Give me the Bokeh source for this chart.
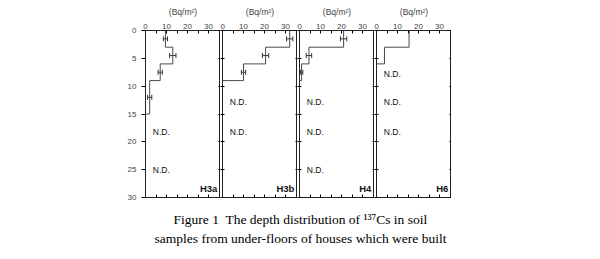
from bokeh.plotting import figure
from bokeh.layouts import row, column
from bokeh.models import (Range1d, LinearAxis, FixedTicker, ColumnDataSource,
                          Whisker, TeeHead, CustomJSTickFormatter)
from bokeh.core.properties import value
from bokeh.embed import file_html
from bokeh.resources import INLINE

# ---------------- data ----------------
panel_names = ["H3a", "H3b", "H4", "H6"]
layer_bounds = [
    [0, 3, 6, 9, 15],
    [0, 3, 6, 9],
    [0, 3, 6, 9],
    [0, 3, 6],
]
cs_values = [
    [9.5, 13.0, 7.0, 2.0],
    [32.0, 20.5, 10.0],
    [21.0, 4.5, 1.0],
    [15.5, 3.8],
]
cs_errors = [
    [1.0, 1.5, 1.0, 1.0],
    [1.5, 1.5, 1.0],
    [1.5, 1.3, 0.6],
    [],
]
nd_depths = [
    [18.3, 25.1],
    [12.9, 18.3],
    [12.9, 18.3, 25.1],
    [7.9, 12.9, 18.3],
]
x_ticks = [0, 10, 20, 30]
x_minor = [5, 15, 25]
y_ticks = [0, 5, 10, 15, 20, 25, 30]
x_label = "(Bq/m\u00b2)"
caption_1 = "Figure 1\u00a0 The depth distribution of \u00b9\u00b3\u2077Cs in soil"
caption_2 = "samples from under-floors of houses which were built"

SANS = "Liberation Sans"
SERIF = "Liberation Serif"
X_MAX = 35.7
LINE = "#4a4a4a"


def blank_formatter():
    return CustomJSTickFormatter(code="return ''")


panels = []
for i, name in enumerate(panel_names):
    first = i == 0
    p = figure(frame_width=75, frame_height=167,
               x_range=Range1d(0, X_MAX), y_range=Range1d(30, 0),
               x_axis_location="above", y_axis_location="left",
               toolbar_location=None, output_backend="svg",
               min_border_left=145 if first else 2, min_border_right=0,
               min_border_top=30, min_border_bottom=6)
    p.grid.visible = False
    p.outline_line_color = "#222222"
    p.background_fill_color = "white"
    p.border_fill_color = "white"

    # top axis
    ax = p.xaxis[0]
    ax.ticker = FixedTicker(ticks=x_ticks, minor_ticks=x_minor)
    ax.axis_label = x_label
    ax.axis_label_text_font = SANS
    ax.axis_label_text_font_size = "8.5px"
    ax.axis_label_text_font_style = "normal"
    ax.axis_label_standoff = 4
    ax.major_label_text_font = SANS
    ax.major_label_text_font_size = "8px"
    ax.major_label_standoff = 2
    ax.major_tick_in = 3
    ax.major_tick_out = 0
    ax.minor_tick_in = 3
    ax.minor_tick_out = 0
    ax.axis_line_color = "#222222"

    # bottom axis (ticks only)
    bx = LinearAxis(ticker=FixedTicker(ticks=x_ticks, minor_ticks=x_minor),
                    formatter=blank_formatter(), major_label_standoff=0,
                    major_tick_in=3, major_tick_out=0, minor_tick_in=3,
                    minor_tick_out=0, axis_line_color="#222222")
    p.add_layout(bx, "below")

    # left axis
    ly = p.yaxis[0]
    ly.ticker = FixedTicker(ticks=y_ticks)
    ly.minor_tick_line_color = None
    ly.axis_line_color = "#222222"
    if first:
        ly.major_label_text_font = SANS
        ly.major_label_text_font_size = "8px"
        ly.major_label_standoff = 5
        ly.major_tick_out = 4
        ly.major_tick_in = 0
    else:
        ly.formatter = blank_formatter()
        ly.major_label_standoff = 0
        ly.major_tick_out = 2
        ly.major_tick_in = 2

    # right axis (ticks only)
    ry = LinearAxis(ticker=FixedTicker(ticks=y_ticks),
                    formatter=blank_formatter(), major_label_standoff=0,
                    major_tick_in=2, major_tick_out=0,
                    minor_tick_line_color=None, axis_line_color="#222222")
    p.add_layout(ry, "right")

    # step profile
    bounds = layer_bounds[i]
    vals = cs_values[i]
    xs, ys = [], []
    for k, v in enumerate(vals):
        xs += [v, v]
        ys += [bounds[k], bounds[k + 1]]
    xs.append(0)
    ys.append(bounds[-1])
    p.line(xs, ys, line_color=LINE, line_width=1)

    # error bars
    errs = cs_errors[i]
    if errs:
        mids = [(bounds[k] + bounds[k + 1]) / 2 for k in range(len(errs))]
        src = ColumnDataSource(dict(
            y=mids,
            lo=[vals[k] - errs[k] for k in range(len(errs))],
            hi=[vals[k] + errs[k] for k in range(len(errs))]))
        w = Whisker(source=src, base="y", lower="lo", upper="hi",
                    dimension="width", line_color="#333333", line_width=1,
                    lower_head=TeeHead(size=5, line_color="#333333"),
                    upper_head=TeeHead(size=5, line_color="#333333"))
        p.add_layout(w)

    # N.D. labels
    nds = nd_depths[i]
    p.text(x=[3.5] * len(nds), y=nds, text=["N.D."] * len(nds),
           text_font=value(SANS), text_font_size="8.5px",
           text_baseline="middle", text_align="left", text_color="#111111")

    # panel name
    p.text(x=[X_MAX - 1.5], y=[28.4], text=[name],
           text_font=value(SANS), text_font_size="9.5px",
           text_font_style="bold", text_baseline="middle",
           text_align="right", text_color="#111111")
    panels.append(p)

cap = figure(width=600, height=56, x_range=Range1d(0, 600),
             y_range=Range1d(56, 0), toolbar_location=None,
             output_backend="svg", min_border=0)
cap.axis.visible = False
cap.grid.visible = False
cap.outline_line_color = None
cap.text(x=[300, 300], y=[16, 35], text=[caption_1, caption_2],
         text_font=value(SERIF), text_font_size="13.5px",
         text_align="center", text_baseline="middle", text_color="black")

layout = column(row(*panels), cap)
open("out.html", "w").write(file_html(layout, INLINE))
